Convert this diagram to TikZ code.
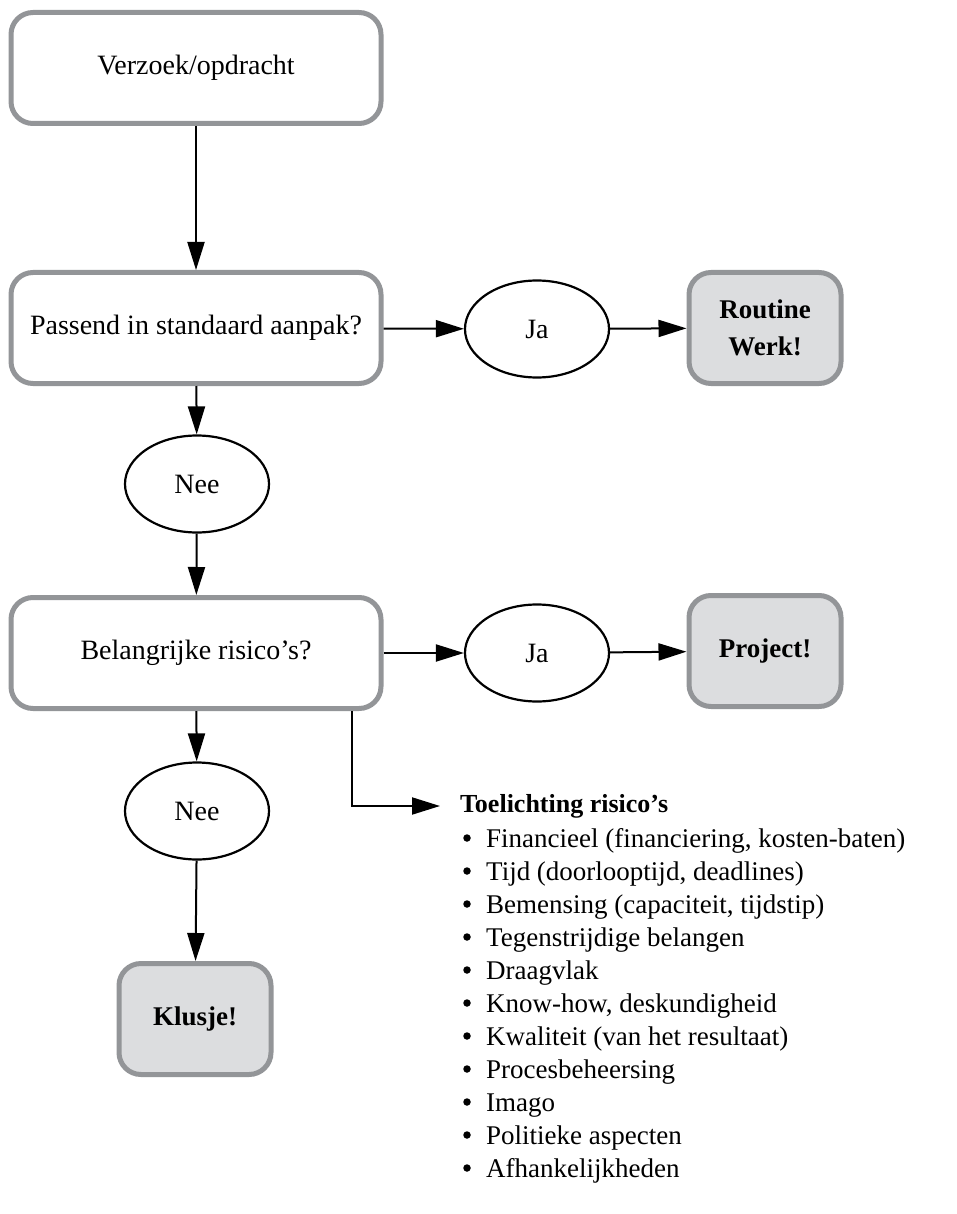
\documentclass[tikz,border=0pt]{standalone}
\usepackage{fontspec}
\setmainfont{Liberation Serif}
\usetikzlibrary{arrows.meta,shapes.geometric}
\definecolor{boxgray}{HTML}{939598}
\definecolor{resfill}{HTML}{DCDDDF}
\begin{document}
\begin{tikzpicture}[x=1pt,y=-1pt,
  stepbox/.style={draw=boxgray, line width=5pt, rounded corners=22pt, fill=white,
    minimum width=370pt, minimum height=111pt, inner sep=0pt, font=\fontsize{28}{33}\selectfont},
  resbox/.style={stepbox, fill=resfill, minimum width=152pt, align=center,
    font=\fontsize{27}{37}\selectfont\bfseries},
  answer/.style={ellipse, draw=black, line width=2.2pt, minimum width=144pt,
    minimum height=97pt, inner sep=0pt, font=\fontsize{28}{33}\selectfont},
  conn/.style={line width=2pt, -{Triangle[length=28pt,width=17pt]}},
  listitem/.style={anchor=base west, inner sep=0pt, font=\fontsize{27}{32}\selectfont},
  dot/.style={circle, fill=black, inner sep=0pt, minimum size=7.5pt}
]
\useasboundingbox (0,0) rectangle (957,1214);

\node[stepbox] (v1) at (196,68) {Verzoek/opdracht};
\node[stepbox] (v2) at (196,328) {Passend in standaard aanpak?};
\node[answer] (ja1) at (537,329) {Ja};
\node[resbox] (routine) at (765,328) {Routine\\Werk!};
\node[answer] (nee1) at (197,484) {Nee};
\node[stepbox] (v3) at (196,653) {Belangrijke risico’s?};
\node[answer] (ja2) at (537,653) {Ja};
\node[resbox] (project) at (765,651) {Project!};
\node[answer] (nee2) at (197,811) {Nee};
\node[resbox] (klusje) at (195,1019) {Klusje!};

\node[anchor=west, inner sep=0pt, outer xsep=20pt, font=\fontsize{26}{30}\selectfont\bfseries]
  (tl) at (440,806) {Toelichting risico’s};

\foreach \t [count=\i] in {{Financieel (financiering, kosten-baten)},
  {Tijd (doorlooptijd, deadlines)},
  {Bemensing (capaciteit, tijdstip)},
  {Tegenstrijdige belangen},
  {Draagvlak},
  {Know-how, deskundigheid},
  {Kwaliteit (van het resultaat)},
  {Procesbeheersing},
  {Imago},
  {Politieke aspecten},
  {Afhankelijkheden}}{
  \node[dot] (b\i) at (467,{838+33*(\i-1)}) {};
  \node[listitem] (l\i) at (486,{838+33*(\i-1)+9}) {\t};
}

\coordinate (brk) at (352,806);

\draw[conn] (v1) -- (v2);
\draw[conn] (v2) -- (ja1);
\draw[conn] (ja1) -- (routine);
\draw[conn] (v2) -- (nee1);
\draw[conn] (nee1) -- (v3);
\draw[conn] (v3) -- (ja2);
\draw[conn] (ja2) -- (project);
\draw[conn] (v3) -- (nee2);
\draw[conn] (nee2) -- (klusje);
\draw[conn] (v3.south -| brk) -- (brk) -- (tl.west);
\end{tikzpicture}
\end{document}
